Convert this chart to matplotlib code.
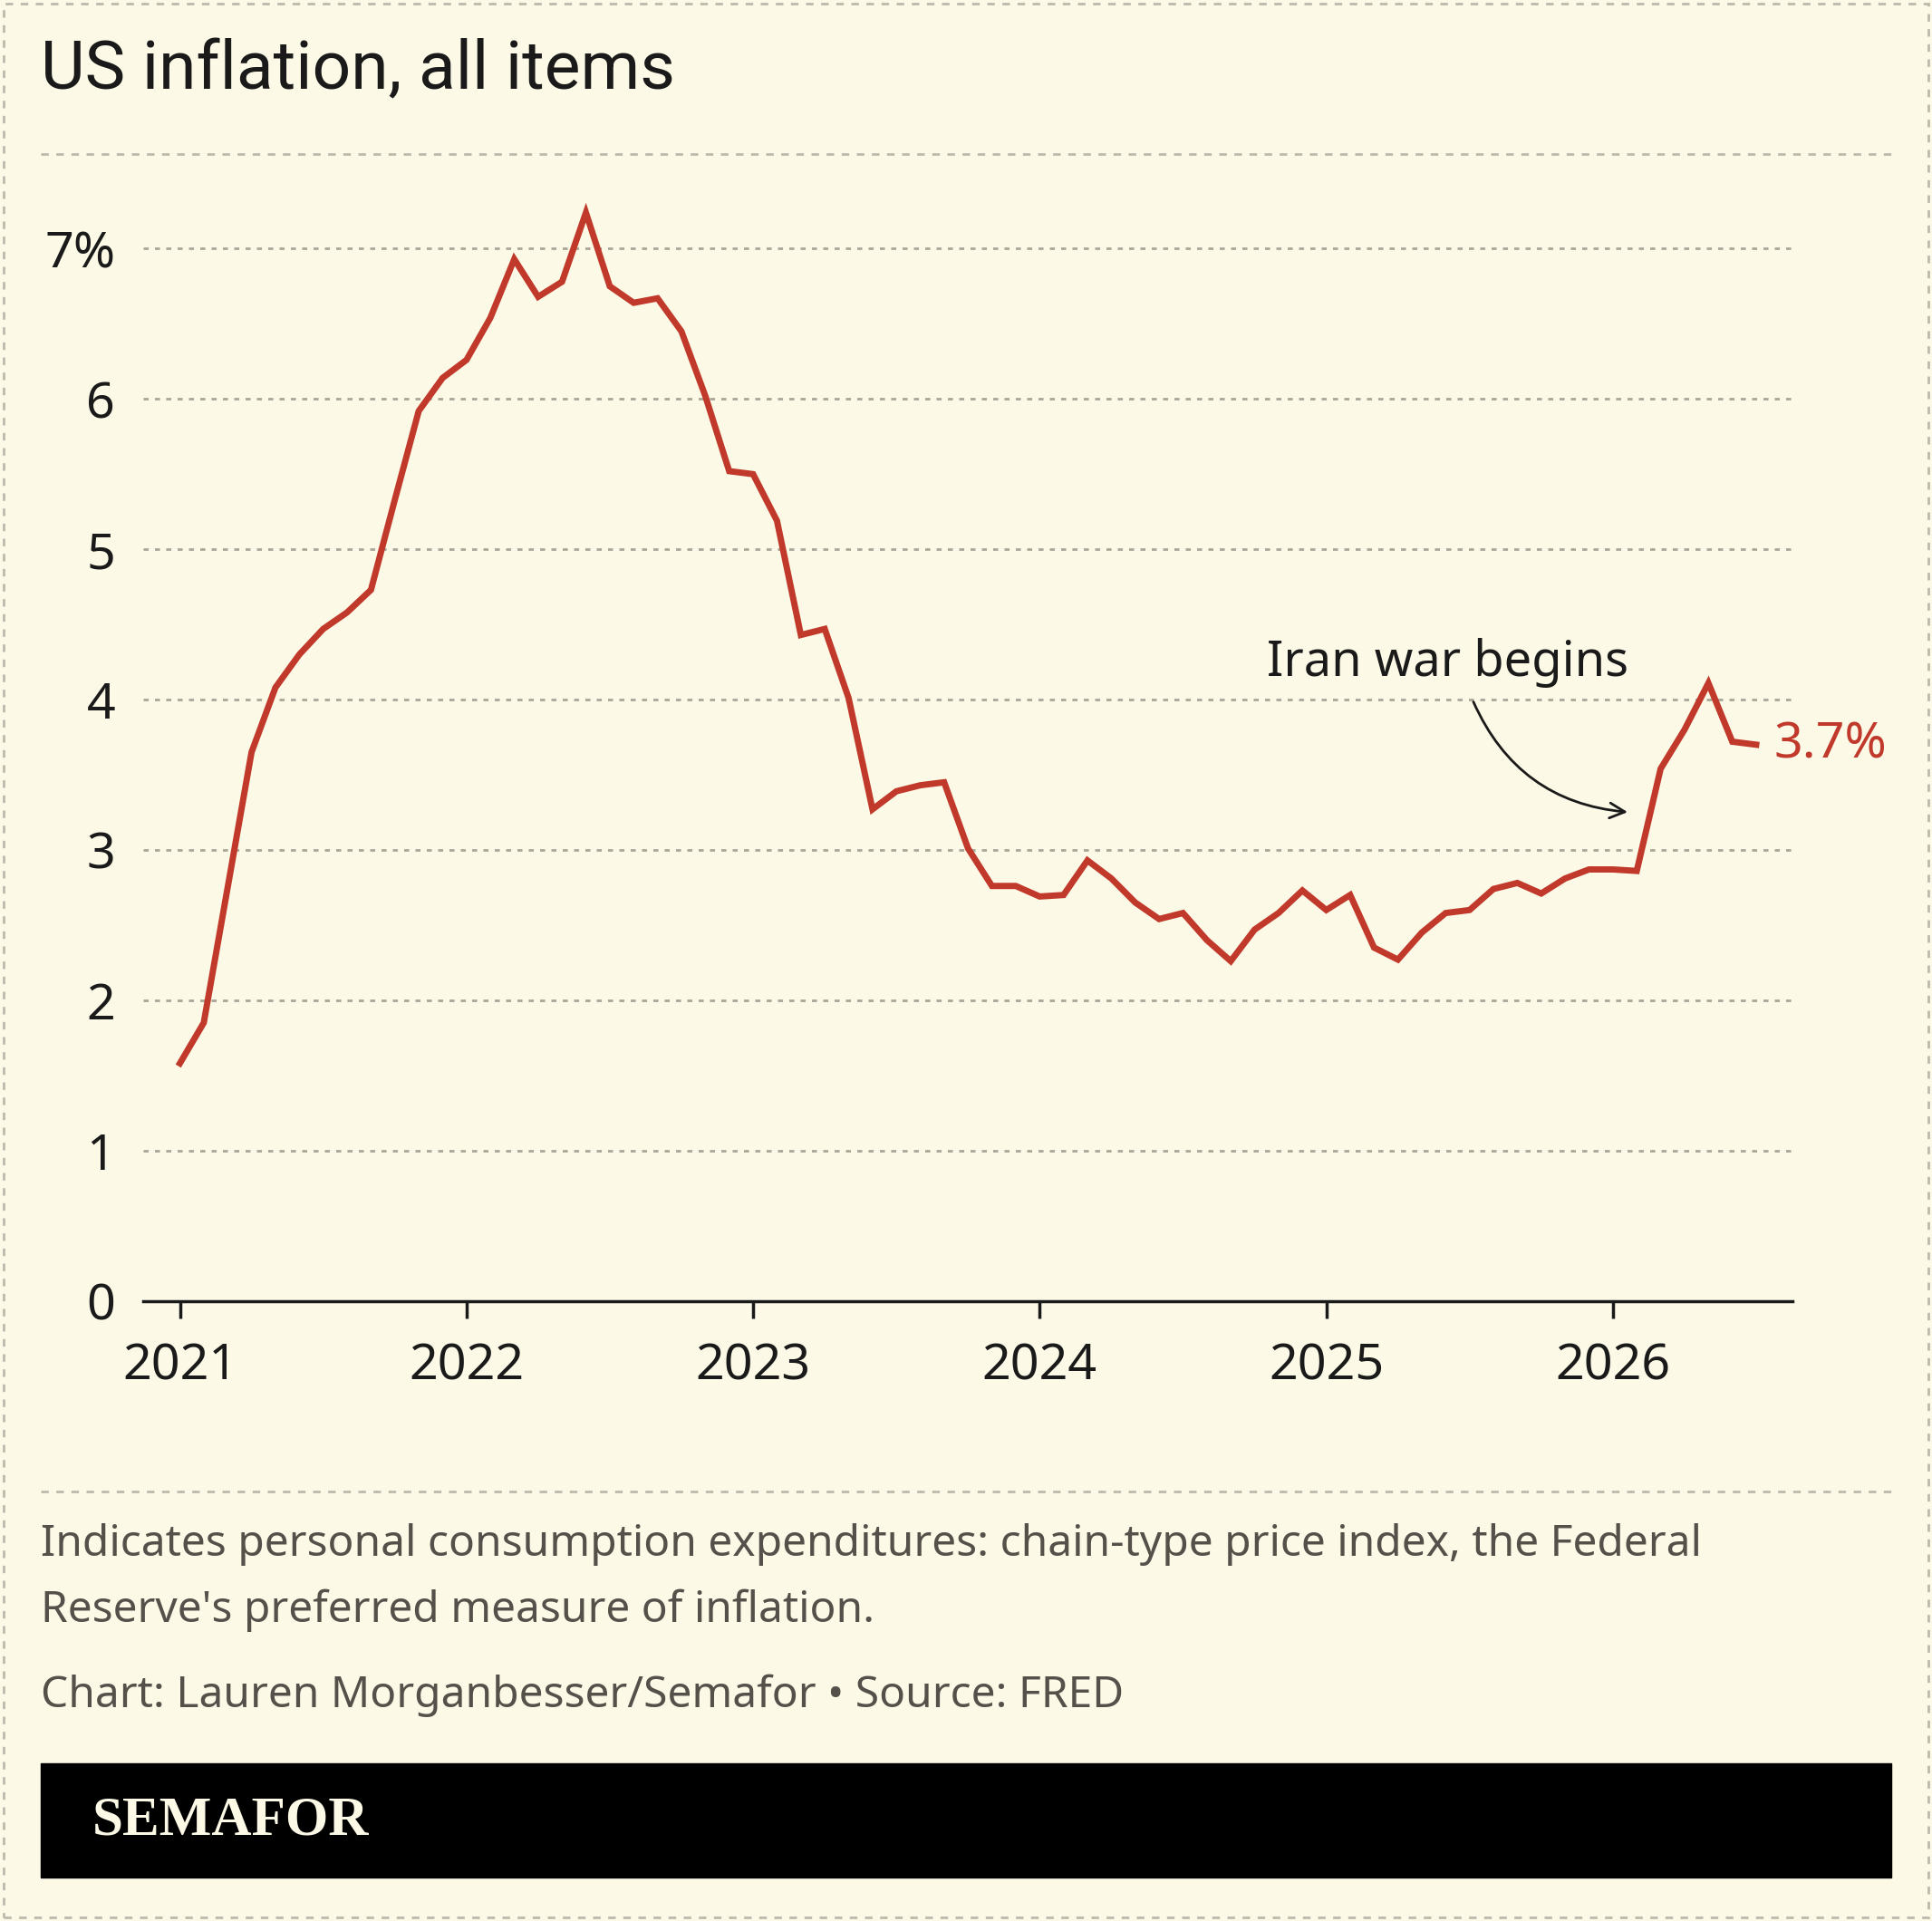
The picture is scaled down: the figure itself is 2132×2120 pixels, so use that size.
import matplotlib.pyplot as plt
from matplotlib.patches import Rectangle, FancyArrowPatch
import numpy as np

# monthly PCE inflation, Jan 2021 .. Jul 2026
start_year = 2021
values = [1.58, 1.85, 2.75, 3.65, 4.08, 4.30, 4.47, 4.58, 4.73, 5.33, 5.92, 6.14,
          6.26, 6.54, 6.93, 6.68, 6.78, 7.24, 6.75, 6.64, 6.67, 6.45, 6.02, 5.52,
          5.50, 5.19, 4.43, 4.47, 4.01, 3.27, 3.39, 3.43, 3.45, 3.01, 2.76, 2.76,
          2.69, 2.70, 2.93, 2.81, 2.65, 2.54, 2.58, 2.40, 2.26, 2.47, 2.58, 2.73,
          2.60, 2.70, 2.35, 2.27, 2.45, 2.58, 2.60, 2.74, 2.78, 2.71, 2.81, 2.87,
          2.87, 2.86, 3.54, 3.80, 4.11, 3.72, 3.70]
y_ticks = [0, 1, 2, 3, 4, 5, 6, 7]
y_labels = ["0", "1", "2", "3", "4", "5", "6", "7%"]
x_years = [2021, 2022, 2023, 2024, 2025, 2026]

BG = "#fcf9e6"
RED = "#c0392b"
TXT = "#1a1a1a"
GREY = "#555049"

W, H = 1568, 1558  # layout in reference-display pixels
fig = plt.figure(figsize=(21.32, 21.2), dpi=100, facecolor=BG)

def fx(x): return x / W
def fy(y): return 1 - y / H

dates = start_year + np.arange(len(values)) / 12
x_left = 2021 + (116 - 146) / 232.6
x_right = 2021 + (1455 - 146) / 232.6
top = 7.6
ax = fig.add_axes([fx(116), fy(1055), fx(1455) - fx(116), fy(1055 - top * 121.9) - fy(1055)])
ax.set_facecolor(BG)
ax.set_xlim(x_left, x_right)
ax.set_ylim(0, top)
for t in y_ticks[1:]:
    ax.axhline(t, color="#aaa69a", lw=2, ls=(0, (2, 2.5)), zorder=1)
ax.plot(dates, values, color=RED, lw=5, solid_joinstyle="miter", zorder=3)
for s in ["top", "right", "left"]:
    ax.spines[s].set_visible(False)
ax.spines["bottom"].set_linewidth(2.5)
ax.spines["bottom"].set_color(TXT)
ax.set_yticks(y_ticks)
ax.set_yticklabels(y_labels)
ax.tick_params(axis="y", length=0, pad=22, labelsize=40, labelcolor=TXT)
ax.set_xticks(x_years)
ax.set_xticklabels([str(y) for y in x_years])
ax.tick_params(axis="x", length=14, width=2.5, color=TXT, pad=18, labelsize=40, labelcolor=TXT)
for lab in ax.get_xticklabels() + ax.get_yticklabels():
    lab.set_fontfamily("Noto Sans")

# end label
ax.annotate(f"{values[-1]:.1f}%", (dates[-1], values[-1]), xytext=(14, 0),
            textcoords="offset points", color=RED, fontsize=40, va="center",
            family="Noto Sans")
# annotation
ax.text(2021 + (1175 - 146) / 232.6, 4.08, "Iran war begins", fontsize=39,
        ha="center", va="bottom", color=TXT, family="Noto Sans")
arr = FancyArrowPatch((2021 + (1195 - 146) / 232.6, 4.0), (2021 + (1323 - 146) / 232.6, 3.25),
                      connectionstyle="arc3,rad=0.3", arrowstyle="->,head_length=12,head_width=6",
                      color=TXT, lw=2)
ax.add_patch(arr)

# title and separators
fig.text(fx(33), fy(57), "US inflation, all items", fontsize=54, color=TXT,
         va="center", family="Roboto")
for yy in [125, 1210]:
    fig.add_artist(plt.Line2D([fx(33), fx(1535)], [fy(yy), fy(yy)], color="#bdb9ad",
                              lw=2, ls=(0, (3, 3))))
fig.text(fx(33), fy(1253), "Indicates personal consumption expenditures: chain-type price index, the Federal",
         fontsize=34.5, color=GREY, va="center", family="Noto Sans")
fig.text(fx(33), fy(1306), "Reserve's preferred measure of inflation.",
         fontsize=34.5, color=GREY, va="center", family="Noto Sans")
fig.text(fx(33), fy(1375), "Chart: Lauren Morganbesser/Semafor \u2022 Source: FRED",
         fontsize=34.5, color=GREY, va="center", family="Noto Sans")

# footer banner
fig.add_artist(Rectangle((fx(33), fy(1523)), fx(1535) - fx(33), fy(1430) - fy(1523),
                         color="black", transform=fig.transFigure))
fig.text(fx(75), fy(1477), "SEMAFOR", fontsize=44, color=BG, va="center",
         fontweight="bold", family="Liberation Serif")

# dashed frame
fig.add_artist(Rectangle((0.002, 0.002), 0.996, 0.996, fill=False, ec="#bdb9ad",
                         lw=2, ls=(0, (3, 3)), transform=fig.transFigure))

fig.savefig("out.png", dpi=100, facecolor=BG)
